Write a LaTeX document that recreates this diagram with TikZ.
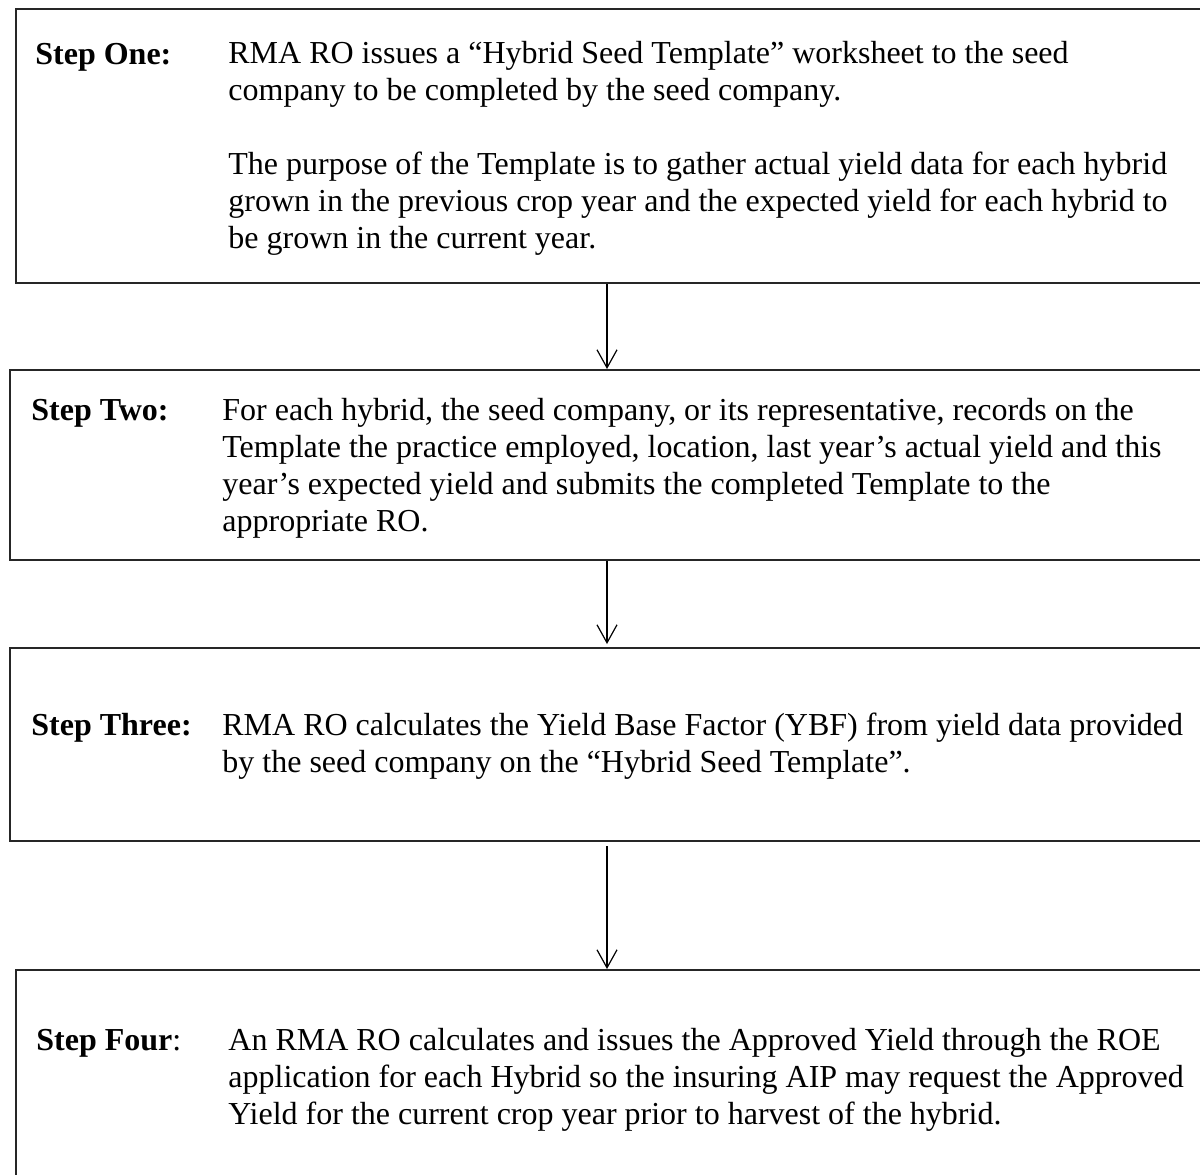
\documentclass[tikz,border=0pt]{standalone}
\usepackage{fontspec}
\setmainfont{Liberation Serif}
\usetikzlibrary{arrows.meta, positioning}
\tikzset{
    stepbox/.style={draw=black!85, line width=1pt, anchor=north west, inner sep=0pt, minimum width=600pt},
    steplbl/.style={anchor=base west, inner sep=0pt, font=\fontsize{16pt}{18.5pt}\selectfont\bfseries},
    steptxt/.style={anchor=base west, inner sep=0pt, align=left, font=\fontsize{16pt}{18.5pt}\selectfont}, % anchored at the last line
    arrow/.style={-{Straight Barb[length=9pt, width=10pt]}, line width=0.6pt}
}
\begin{document}
\begin{tikzpicture}[x=0.5pt, y=-0.5pt]
    \path[use as bounding box, clip] (0,0) rectangle (1200,1174);
    % boxes
    \node [stepbox, minimum height=137pt] (one) at (15,8) {};
    \node [stepbox, minimum height=95pt] (two) at (9,369) {};
    \node [stepbox, minimum height=96.5pt] (three) at (9,647) {};
    \node [stepbox, minimum height=120pt] (four) at (15,969) {};
    % texts
    \node [steplbl] (onelbl) at (35,64) {Step One:};
    \node [steptxt] (onetxt) at (228,248) {RMA RO issues a “Hybrid Seed Template” worksheet to the seed\\
        company to be completed by the seed company.\\[18.5pt]
        The purpose of the Template is to gather actual yield data for each hybrid\\
        grown in the previous crop year and the expected yield for each hybrid to\\
        be grown in the current year.};
    \node [steplbl] (twolbl) at (31,420) {Step Two:};
    \node [steptxt] (twotxt) at (222,531) {For each hybrid, the seed company, or its representative, records on the\\
        Template the practice employed, location, last year’s actual yield and this\\
        year’s expected yield and submits the completed Template to the\\
        appropriate RO.};
    \node [steplbl] (threelbl) at (31,735) {Step Three:};
    \node [steptxt] (threetxt) at (222,772) {RMA RO calculates the Yield Base Factor (YBF) from yield data provided\\
        by the seed company on the “Hybrid Seed Template”.};
    \node [steplbl] (fourlbl) at (36,1050) {Step Four\mdseries:};
    \node [steptxt] (fourtxt) at (228,1124) {An RMA RO calculates and issues the Approved Yield through the ROE\\
        application for each Hybrid so the insuring AIP may request the Approved\\
        Yield for the current crop year prior to harvest of the hybrid.};
    % arrows
    \coordinate (ax) at (607,0);
    \draw [arrow] (one.south -| ax) -- (two.north -| ax);
    \draw [arrow, shorten >=1.5pt] (two.south -| ax) -- (three.north -| ax);
    \draw [arrow, shorten <=2pt] (three.south -| ax) -- (four.north -| ax);
\end{tikzpicture}
\end{document}
